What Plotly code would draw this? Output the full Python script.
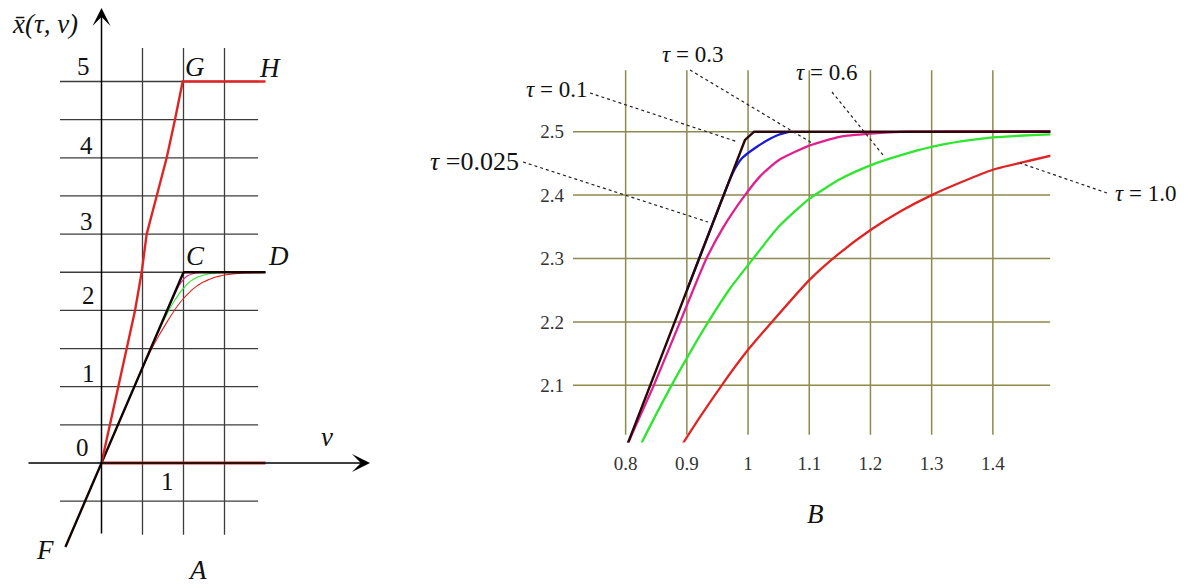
import plotly.graph_objects as go

W, H = 1189, 586

# ---- limiting trajectory F-O-C-D (also tau = 0.025) ----
lim_v = [-0.44, 0.978, 0.995, 1.01, 2.0]
lim_x = [-1.1, 2.445, 2.487, 2.5, 2.5]

# ---- upper trajectory O-G-H ----
gh_v = [0, 0.205, 0.307, 0.409, 0.49, 0.551, 0.673, 0.795, 0.896, 0.99, 2.0]
gh_x = [0, 1.0, 1.5, 2.0, 2.5, 3.0, 3.5, 4.0, 4.5, 5.0, 5.0]

# ---- lower branch on the v axis ----
base_v = [0, 2.0]
base_x = [0, 0]

# ---- relaxation curves for several tau ----
tau01_v = [0.9, 0.95, 0.975, 0.99, 1.014, 1.047, 1.068]
tau01_x = [2.25, 2.375, 2.435, 2.458, 2.476, 2.494, 2.5]

tau03_v = [0.7, 0.8, 0.846, 0.889, 0.932, 0.96, 0.995, 1.02, 1.05, 1.1, 1.15, 1.2, 1.26, 2.0]
tau03_x = [1.75, 2.0, 2.1, 2.2, 2.3, 2.35, 2.4, 2.43, 2.455, 2.478, 2.492, 2.497, 2.5, 2.5]

tau06_v = [0.65, 0.7, 0.75, 0.8, 0.826, 0.875, 0.9, 0.935, 0.97, 1.0085, 1.05, 1.1,
           1.15, 1.2, 1.25, 1.3, 1.35, 1.4, 1.45, 1.5, 1.7, 2.0]
tau06_x = [1.625, 1.742, 1.85, 1.955, 2.009, 2.1, 2.143, 2.2, 2.252, 2.3, 2.35, 2.394,
           2.425, 2.447, 2.463, 2.476, 2.485, 2.491, 2.494, 2.496, 2.499, 2.5]

tau10_v = [0.5, 0.6, 0.7, 0.8, 0.894, 0.957, 1.0, 1.039, 1.1, 1.145, 1.2, 1.25, 1.3,
           1.35, 1.4, 1.45, 1.5, 1.6, 1.75, 2.0]
tau10_x = [1.25, 1.47, 1.67, 1.85, 2.009, 2.1, 2.156, 2.2, 2.266, 2.305, 2.345, 2.375, 2.4,
           2.421, 2.44, 2.452, 2.463, 2.478, 2.49, 2.497]

# grid positions
gridA_v = [0.5, 1.0, 1.5]
gridA_x = [-0.5, 0.5, 1.0, 1.5, 2.0, 2.5, 3.0, 3.5, 4.0, 4.5, 5.0]
ticksB_v = [0.8, 0.9, 1.0, 1.1, 1.2, 1.3, 1.4]
ticksB_x = [2.1, 2.2, 2.3, 2.4, 2.5]
ticklabB_v = ["0.8", "0.9", "1", "1.1", "1.2", "1.3", "1.4"]
ticklabB_x = ["2.1", "2.2", "2.3", "2.4", "2.5"]

C_BLACK = "#120202"
C_BROWN = "#2a0808"
C_BLUE = "#1818d8"
C_MAG = "#e0208c"
C_GREEN = "#2ee62e"
C_RED = "#e02424"
C_DRED = "#c0322a"
GRID_A = "#3c3c3c"
GRID_B = "#8c8a4c"
SERIF = "Liberation Serif, Times New Roman, serif"


def px(x, y):
    return x / W, 1 - y / H


fig = go.Figure()

# ---------------- panel A ----------------
for v_, x_, c in [(tau10_v, tau10_x, C_RED), (tau06_v, tau06_x, C_GREEN),
                  (tau03_v, tau03_x, C_MAG)]:
    fig.add_trace(go.Scatter(x=v_, y=x_, mode="lines",
                             line=dict(color=c, width=1.1, shape="spline", smoothing=0.6),
                             xaxis="x", yaxis="y", hoverinfo="skip"))
fig.add_trace(go.Scatter(x=lim_v, y=lim_x, mode="lines", line=dict(color=C_BLACK, width=2.4),
                         xaxis="x", yaxis="y", hoverinfo="skip"))
fig.add_trace(go.Scatter(x=gh_v, y=gh_x, mode="lines", line=dict(color=C_RED, width=2.4),
                         xaxis="x", yaxis="y", hoverinfo="skip"))
fig.add_trace(go.Scatter(x=base_v, y=base_x, mode="lines", line=dict(color=C_DRED, width=3.2),
                         xaxis="x", yaxis="y", hoverinfo="skip"))

# ---------------- panel B ----------------
for v_, x_, c in [(tau10_v, tau10_x, C_RED), (tau06_v, tau06_x, C_GREEN),
                  (tau03_v, tau03_x, C_MAG), (tau01_v, tau01_x, C_BLUE)]:
    fig.add_trace(go.Scatter(x=v_, y=x_, mode="lines",
                             line=dict(color=c, width=2.3, shape="spline", smoothing=0.6),
                             xaxis="x2", yaxis="y2", hoverinfo="skip"))
fig.add_trace(go.Scatter(x=lim_v, y=lim_x, mode="lines", line=dict(color=C_BROWN, width=2.4),
                         xaxis="x2", yaxis="y2", hoverinfo="skip"))

shapes = []
# grid of panel A
for g in gridA_v:
    shapes.append(dict(type="line", xref="x", yref="y", x0=g, x1=g, y0=-0.94, y1=5.44,
                       line=dict(color=GRID_A, width=1.3), layer="below"))
for g in gridA_x:
    shapes.append(dict(type="line", xref="x", yref="y", x0=-0.506, x1=1.91, y0=g, y1=g,
                       line=dict(color=GRID_A, width=1.3), layer="below"))
# grid of panel B
for g in ticksB_v:
    shapes.append(dict(type="line", xref="x2", yref="y2", x0=g, x1=g, y0=2.022, y1=2.597,
                       line=dict(color=GRID_B, width=1.5), layer="below"))
for g in ticksB_x:
    shapes.append(dict(type="line", xref="x2", yref="y2", x0=0.714, x1=1.494, y0=g, y1=g,
                       line=dict(color=GRID_B, width=1.5), layer="below"))

# leader lines for the tau labels
leaders = [((523, 162), (708, 222)), ((590, 93), (738, 142)), ((690, 70), (812, 143)),
           ((832, 92), (883, 155)), ((1107, 193), (1020, 163))]
for (a, b) in leaders:
    x0, y0 = px(*a)
    x1, y1 = px(*b)
    shapes.append(dict(type="line", xref="paper", yref="paper", x0=x0, y0=y0, x1=x1, y1=y1,
                       line=dict(color="#222222", width=1.2, dash="dot")))

annotations = []


def label(text, x, y, size, italic=False, color="#111111"):
    ax_, ay_ = px(x, y)
    if italic:
        text = "<i>" + text + "</i>"
    annotations.append(dict(text=text, x=ax_, y=ay_, xref="paper", yref="paper",
                            showarrow=False, xanchor="center", yanchor="middle",
                            font=dict(family=SERIF, size=size, color=color)))


# coordinate arrows of panel A
tx, ty = px(370, 463)
annotations.append(dict(x=tx, y=ty, xref="paper", yref="paper", ax=-343, ay=0, text="",
                        showarrow=True, arrowhead=3, arrowsize=2, arrowwidth=1.5,
                        arrowcolor="#000000"))
tx, ty = px(101.5, 8)
annotations.append(dict(x=tx, y=ty, xref="paper", yref="paper", ax=0, ay=527, text="",
                        showarrow=True, arrowhead=3, arrowsize=2, arrowwidth=1.5,
                        arrowcolor="#000000"))

for t, x, y in [("5", 83, 66), ("4", 86, 145), ("3", 86, 222), ("2", 88, 295),
                ("1", 88, 373), ("0", 82, 447), ("1", 167, 481)]:
    label(t, x, y, 25)
for t, x, y in [("G", 195, 67), ("H", 270, 68), ("C", 195, 256), ("D", 278, 256),
                ("F", 45, 550), ("A", 197, 570), ("v", 327, 437), ("B", 815, 514)]:
    label(t, x, y, 27, italic=True)
label("x\u0304(τ, v)", 45, 24, 27, italic=True)

for val, x, y, sz in [("=0.025", 474, 161, 26), ("= 0.1", 556, 89, 23), ("= 0.3", 692, 55, 23),
                      ("= 0.6", 826, 73, 23), ("= 1.0", 1145, 193, 23)]:
    ax_, ay_ = px(x, y)
    annotations.append(dict(text="<i>τ</i> " + val, x=ax_, y=ay_, xref="paper", yref="paper",
                            showarrow=False, xanchor="center", yanchor="middle",
                            font=dict(family=SERIF, size=sz, color="#111111")))

xB0, xB1 = 573 / W, 1050.4 / W
yB0, yB1 = 1 - 442.4 / H, 1 - 68.3 / H

fig.update_layout(
    width=W, height=H, margin=dict(l=0, r=0, t=0, b=0),
    paper_bgcolor="white", plot_bgcolor="rgba(0,0,0,0)", showlegend=False,
    xaxis=dict(domain=[0, 380 / W], range=[-1.2378, 3.3963], visible=False, fixedrange=True),
    yaxis=dict(domain=[0, 1], range=[-1.612, 6.068], visible=False, fixedrange=True),
    xaxis2=dict(domain=[xB0, xB1], range=[0.714, 1.494], anchor="y2", showgrid=False,
                zeroline=False, showline=False, ticks="", tickvals=ticksB_v,
                ticktext=ticklabB_v, ticklabelstandoff=8,
                tickfont=dict(family=SERIF, size=19, color="#333333")),
    yaxis2=dict(domain=[yB0, yB1], range=[2.01, 2.6], anchor="x2", showgrid=False,
                zeroline=False, showline=False, ticks="", tickvals=ticksB_x,
                ticktext=ticklabB_x, ticklabelstandoff=8,
                tickfont=dict(family=SERIF, size=19, color="#333333")),
    shapes=shapes, annotations=annotations,
)

fig.write_html("out.html")
